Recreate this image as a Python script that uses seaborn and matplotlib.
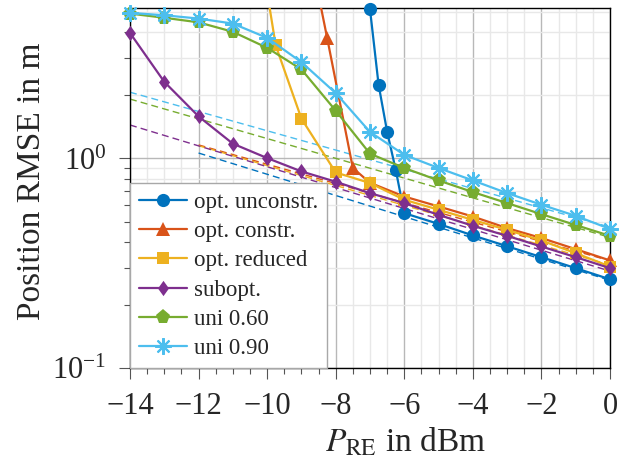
import numpy as np
import pandas as pd
import matplotlib
matplotlib.use("Agg")
import matplotlib.pyplot as plt
from matplotlib.patches import Rectangle
from matplotlib.ticker import MultipleLocator, LogLocator, NullFormatter
import seaborn as sns

# ---------------- data ----------------
x_unconstr = [-7, -6.75, -6.5, -6.25, -6, -5, -4, -3, -2, -1, 0]
y_unconstr = [5.15, 2.25, 1.34, 0.883, 0.548, 0.487, 0.429, 0.381, 0.338, 0.2995, 0.265]

x_constr = [-8.5, -8.25, -7.5, -7, -6, -5, -4, -3, -2, -1, 0]
y_constr = [6.0, 3.76, 0.90, 0.765, 0.658, 0.590, 0.528, 0.465, 0.417, 0.369, 0.326]

x_reduced = [-10, -9.75, -9, -8, -7, -6, -5, -4, -3, -2, -1, 0]
y_reduced = [6.2, 3.46, 1.548, 0.857, 0.763, 0.635, 0.569, 0.509, 0.456, 0.406, 0.353, 0.305]

x_full = [-14, -13, -12, -11, -10, -9, -8, -7, -6, -5, -4, -3, -2, -1, 0]
y_subopt = [3.97, 2.32, 1.587, 1.176, 1.004, 0.867, 0.774, 0.683, 0.612, 0.538,
            0.477, 0.427, 0.380, 0.338, 0.2995]
y_uni60 = [4.91, 4.69, 4.46, 4.02, 3.37, 2.66, 1.69, 1.053, 0.900, 0.785,
           0.691, 0.612, 0.542, 0.481, 0.427]
y_uni90 = [4.95, 4.82, 4.65, 4.40, 3.76, 2.88, 2.05, 1.337, 1.04, 0.90,
           0.785, 0.683, 0.601, 0.532, 0.461]

# dashed asymptotic reference lines: (start x, end x, start value, end value)
ref_x_start = [-12, -12, -12, -14, -14, -14]
ref_x_end = [0, 0, 0, 0, 0, 0]
ref_y_start = [1.061, 1.16, 1.15, 1.444, 1.92, 2.07]
ref_y_end = [0.262, 0.325, 0.31, 0.29, 0.42, 0.47]

labels = ["opt. unconstr.", "opt. constr.", "opt. reduced", "subopt.", "uni 0.60", "uni 0.90"]
colors = ["#0072BD", "#D95319", "#EDB120", "#7E2F8E", "#77AC30", "#4DBEEE"]
x_ticks = [-14, -12, -10, -8, -6, -4, -2, 0]

# ---------------- style ----------------
sns.set_style("white")
plt.rcParams["font.family"] = ["Liberation Serif", "DejaVu Serif"]
plt.rcParams["mathtext.fontset"] = "stix"
plt.rcParams["axes.unicode_minus"] = True

fig = plt.figure(figsize=(6.19, 4.57), dpi=100)
ax = fig.add_axes([130 / 619, 1 - 368 / 457, 480 / 619, (368 - 7.5) / 457])

diamond = [(0, 1), (0.72, 0), (0, -1), (-0.72, 0), (0, 1)]
markers = ["o", "^", "s", diamond, "p", (8, 2, 0)]
msizes = [9.5, 10, 8.5, 11, 11, 12]

series = [
    (x_unconstr, y_unconstr),
    (x_constr, y_constr),
    (x_reduced, y_reduced),
    (x_full, y_subopt),
    (x_full, y_uni60),
    (x_full, y_uni90),
]

# dashed reference lines (behind)
for i in range(6):
    df = pd.DataFrame({"x": [ref_x_start[i], ref_x_end[i]],
                       "y": [ref_y_start[i], ref_y_end[i]]})
    sns.lineplot(data=df, x="x", y="y", ax=ax, color=colors[i], lw=1.0,
                 linestyle=(0, (5, 3)), zorder=1.8, legend=False, errorbar=None)

handles = []
for i, (xs, ys) in enumerate(series):
    df = pd.DataFrame({"x": xs, "y": ys})
    kw = dict(marker=markers[i], markersize=msizes[i], color=colors[i], lw=1.6,
              zorder=3 + i * 0.01)
    if i == 5:
        kw.update(markeredgewidth=1.5, markeredgecolor=colors[i])
    else:
        kw.update(markeredgewidth=0)
    sns.lineplot(data=df, x="x", y="y", ax=ax, label=labels[i], errorbar=None,
                 sort=False, legend=False, **kw)
    line = ax.lines[-1]
    if i in (1, 2):
        line.set_clip_path(Rectangle((-0.1, -0.1), 1.2, 1.1, transform=ax.transAxes))
    else:
        line.set_clip_on(False)
    handles.append(line)

ax.set_yscale("log")
ax.set_xlim(-14, 0)
ax.set_ylim(0.1, 5.25)
ax.set_xticks(x_ticks)
ax.xaxis.set_minor_locator(MultipleLocator(0.5))
ax.yaxis.set_major_locator(LogLocator(base=10, numticks=10))
ax.yaxis.set_minor_locator(LogLocator(base=10, subs=np.arange(2, 10), numticks=20))
ax.yaxis.set_minor_formatter(NullFormatter())

ax.set_axisbelow(True)
ax.grid(which="major", color="#b8b8b8", lw=1.0)
ax.grid(which="minor", color="#e8e8e8", lw=1.0)

for s in ax.spines.values():
    s.set_color("black")
    s.set_linewidth(1.0)
    s.set_visible(True)

ax.tick_params(which="major", direction="out", length=8, width=0.8, labelsize=22,
               color="#555555")
ax.tick_params(axis="x", which="major", pad=9)
ax.tick_params(axis="y", which="major", pad=9)
ax.tick_params(which="minor", direction="out", length=4.5, width=0.8, color="#555555")
ax.tick_params(axis="both", which="both", bottom=True, left=True, top=False, right=False)

ax.set_xlabel(r"$P_{\mathrm{RE}}$ in dBm", fontsize=24)
ax.xaxis.set_label_coords(0.573, -0.16)
ax.set_ylabel("Position RMSE in m", fontsize=24)
ax.yaxis.set_label_coords(-0.173, 0.519)

leg = ax.legend(handles=handles, labels=labels, loc="lower left", borderaxespad=0,
                fancybox=False, framealpha=1, edgecolor="#a8a8a8", fontsize=16.5,
                handlelength=2.1, handletextpad=0.3, labelspacing=0.36, borderpad=0.38)
leg.get_frame().set_linewidth(1.0)
leg.set_zorder(10)

fig.savefig("out.png", dpi=100)
